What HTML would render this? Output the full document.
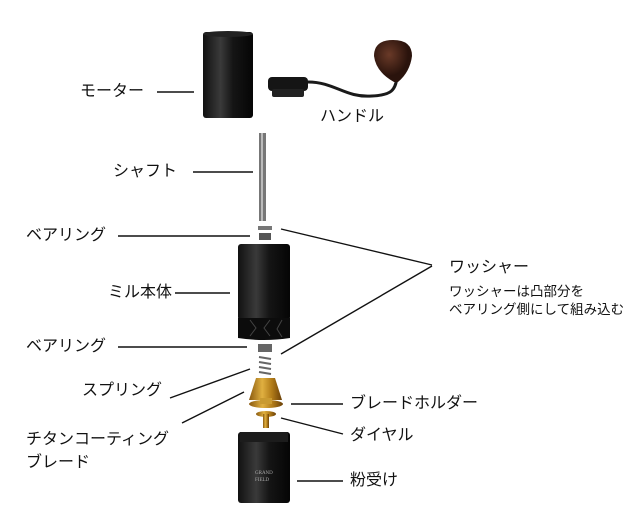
<!DOCTYPE html>
<html><head><meta charset="utf-8"><style>
body{margin:0;width:640px;height:520px;background:#fff;overflow:hidden;position:relative;font-family:"Liberation Sans","Noto Sans CJK JP",sans-serif;color:#111}
.t{position:absolute;font-size:16px;white-space:nowrap;line-height:18px}
.s{font-size:13.5px}
svg{position:absolute;left:0;top:0}
</style></head><body>
<svg width="640" height="520" viewBox="0 0 640 520">
<defs>
<linearGradient id="blk" x1="0" x2="1"><stop offset="0" stop-color="#111"/><stop offset=".35" stop-color="#3a3a3a"/><stop offset=".6" stop-color="#151515"/><stop offset="1" stop-color="#050505"/></linearGradient>
<linearGradient id="gold" x1="0" x2="1"><stop offset="0" stop-color="#8a5a10"/><stop offset=".4" stop-color="#e0b040"/><stop offset=".7" stop-color="#b07a18"/><stop offset="1" stop-color="#6a4008"/></linearGradient>
<radialGradient id="wood" cx=".4" cy=".35"><stop offset="0" stop-color="#6a3a28"/><stop offset="1" stop-color="#2a130c"/></radialGradient>
</defs>
<g stroke="#111" stroke-width="1.4">
<line x1="157" y1="92" x2="194" y2="92"/>
<line x1="193" y1="172" x2="253" y2="172"/>
<line x1="118" y1="236" x2="250" y2="236"/>
<line x1="175" y1="293" x2="230" y2="293"/>
<line x1="118" y1="347" x2="247" y2="347"/>
<line x1="170" y1="398" x2="250" y2="369"/>
<line x1="182" y1="423" x2="244" y2="392"/>
<line x1="291" y1="404" x2="343" y2="404"/>
<line x1="281" y1="418" x2="343" y2="434"/>
<line x1="297" y1="481" x2="343" y2="481"/>
<line x1="281" y1="229" x2="432" y2="265"/>
<line x1="281" y1="354" x2="432" y2="266"/>
</g>
<rect x="203" y="32" width="50" height="86" rx="3" fill="url(#blk)"/>
<ellipse cx="228" cy="34" rx="25" ry="3" fill="#222"/>
<rect x="268" y="77" width="40" height="14" rx="4" fill="#151515"/>
<rect x="272" y="89" width="32" height="8" rx="2" fill="#222"/>
<path d="M308 82 C335 82 345 98 372 96 C392 95 395 90 397 78" stroke="#1a1a1a" stroke-width="3" fill="none"/>
<path d="M374 56 Q374 40 393 40 Q412 40 412 56 Q410 72 398 82 L394 82 Q376 72 374 56Z" fill="url(#wood)"/>
<rect x="259" y="133" width="7" height="88" fill="#777"/>
<rect x="261" y="133" width="2" height="88" fill="#bbb"/>
<rect x="258" y="226" width="14" height="4" fill="#777"/>
<rect x="259" y="233" width="12" height="7" fill="#555"/>
<rect x="238" y="244" width="52" height="76" rx="3" fill="url(#blk)"/>
<path d="M238 318 h52 v20 q-26 4 -52 0z" fill="#0c0c0c"/>
<path d="M250 320 l6 8 -6 8 M270 320 l-6 8 6 8 M282 320 l-5 9 5 8" stroke="#444" stroke-width="1" fill="none"/>
<rect x="258" y="344" width="14" height="8" fill="#666"/>
<g stroke="#666" stroke-width="2"><line x1="259" y1="357" x2="271" y2="359"/><line x1="259" y1="362" x2="271" y2="364"/><line x1="259" y1="367" x2="271" y2="369"/><line x1="259" y1="372" x2="271" y2="374"/></g>
<path d="M256 378 h19 l7 22 h-33z" fill="url(#gold)"/>
<ellipse cx="266" cy="404" rx="17" ry="4" fill="url(#gold)"/>
<rect x="260" y="398" width="12" height="6" fill="#c99a30"/>
<ellipse cx="266" cy="414" rx="10" ry="3" fill="url(#gold)"/>
<rect x="263" y="414" width="6" height="14" fill="url(#gold)"/>
<rect x="238" y="432" width="52" height="71" rx="3" fill="url(#blk)"/>
<rect x="240" y="432" width="48" height="10" fill="#1c1c1c"/>
<text x="255" y="474" font-size="5" fill="#aaa" font-family="Liberation Serif">GRAND</text>
<text x="255" y="481" font-size="5" fill="#aaa" font-family="Liberation Serif">FIELD</text>
</svg>
<div class="t" style="left:80px;top:83px">モーター</div>
<div class="t" style="left:320px;top:108px">ハンドル</div>
<div class="t" style="left:113px;top:163px">シャフト</div>
<div class="t" style="left:26px;top:227px">ベアリング</div>
<div class="t" style="left:108px;top:284px">ミル本体</div>
<div class="t" style="left:26px;top:338px">ベアリング</div>
<div class="t" style="left:82px;top:382px">スプリング</div>
<div class="t" style="left:26px;top:431px">チタンコーティング</div>
<div class="t" style="left:26px;top:454px">ブレード</div>
<div class="t" style="left:350px;top:395px">ブレードホルダー</div>
<div class="t" style="left:350px;top:427px">ダイヤル</div>
<div class="t" style="left:350px;top:472px">粉受け</div>
<div class="t" style="left:449px;top:259px">ワッシャー</div>
<div class="t s" style="left:449px;top:283px">ワッシャーは凸部分を</div>
<div class="t s" style="left:449px;top:301px">ベアリング側にして組み込む</div>
</body></html>
